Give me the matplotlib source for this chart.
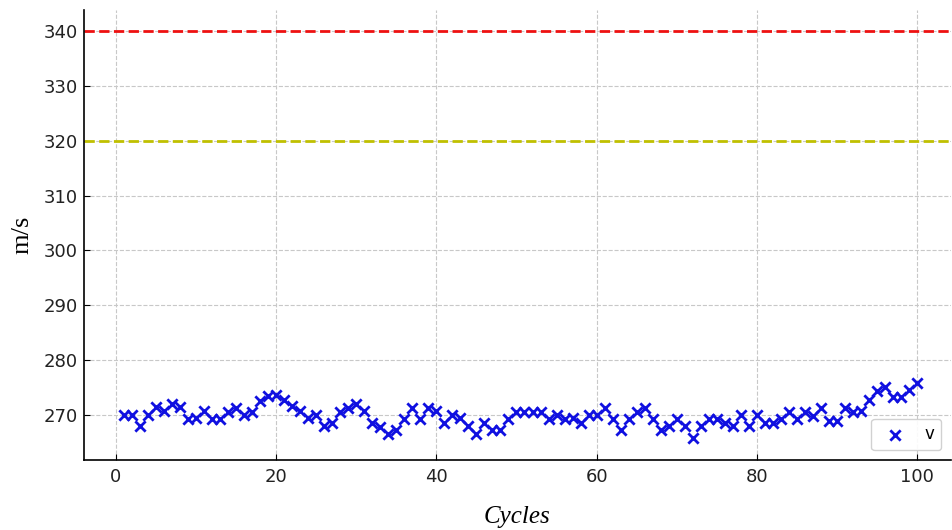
import numpy as np
import matplotlib
matplotlib.use("Agg")
import matplotlib.pyplot as plt

# Datos
ciclos = list(range(1, 101))
velocidad = [
    270.0, 270.0, 268.0, 270.0, 271.5, 270.8, 272.0, 271.5, 269.3, 269.5,
    270.8, 269.3, 269.3, 270.5, 271.3, 270.0, 270.5, 272.6, 273.5, 273.6,
    272.8, 271.6, 270.8, 269.5, 270.0, 268.0, 268.6, 270.6, 271.3, 272.0,
    270.8, 268.6, 267.8, 266.6, 267.2, 269.3, 271.3, 269.3, 271.3, 270.8,
    268.6, 270.0, 269.5, 268.0, 266.6, 268.6, 267.2, 267.2, 269.3, 270.6,
    270.6, 270.6, 270.6, 269.3, 270.0, 269.3, 269.5, 268.6, 270.0, 270.0,
    271.3, 269.3, 267.2, 269.3, 270.6, 271.3, 269.3, 267.2, 268.0, 269.3,
    268.0, 265.9, 268.0, 269.3, 269.3, 268.6, 268.0, 270.0, 268.0, 270.0,
    268.6, 268.6, 269.3, 270.6, 269.3, 270.6, 269.8, 271.3, 269.0, 269.0,
    271.3, 270.6, 270.8, 272.8, 274.3, 275.2, 273.2, 273.2, 274.6, 275.8,
]
limite_superior = 340
limite_aviso = 320

fig = plt.figure(figsize=(9.53, 5.30), dpi=100)
ax = fig.add_axes([0.088, 0.132, 0.91, 0.849])

ax.scatter(ciclos, velocidad, marker='x', color='#1010e0', s=55,
           linewidths=2, label='v', zorder=3)
ax.axhline(limite_superior, color='#ee1111', linestyle='--', linewidth=2)
ax.axhline(limite_aviso, color='#c0c000', linestyle='--', linewidth=2)

ax.set_xlim(-3.95, 104.2)
ax.set_ylim(261.8, 343.8)
ax.set_yticks([270, 280, 290, 300, 310, 320, 330, 340])
ax.set_xticks([0, 20, 40, 60, 80, 100])

ax.grid(True, linestyle='--', color='#c8c8c8', linewidth=0.8)
ax.set_axisbelow(True)
for lado in ['top', 'right']:
    ax.spines[lado].set_visible(False)
ax.spines['left'].set_linewidth(1.2)
ax.spines['bottom'].set_linewidth(1.2)
ax.tick_params(axis='both', labelsize=13, direction='in', length=4,
               labelcolor='#222222')
ax.tick_params(axis='y', pad=4.5)
ax.tick_params(axis='x', pad=6)

ax.set_xlabel('Cycles', fontsize=18, family='Liberation Serif',
              style='italic')
ax.set_ylabel('m/s', fontsize=19, family='Liberation Serif')
ax.xaxis.set_label_coords(0.5, -0.102)
ax.yaxis.set_label_coords(-0.058, 0.5)

ax.legend(loc='lower right', fontsize=12, framealpha=0.9,
          edgecolor='#cccccc', fancybox=True, borderaxespad=0.6)

fig.savefig('out.png', dpi=100)
